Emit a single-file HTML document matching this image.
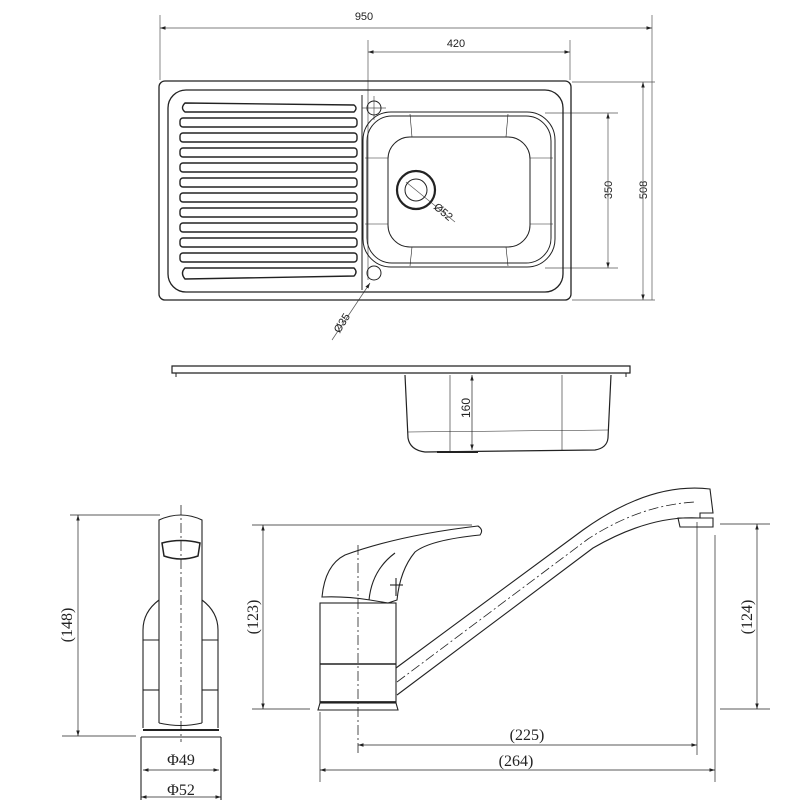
<!DOCTYPE html>
<html><head><meta charset="utf-8"><style>html,body{margin:0;padding:0;background:#fff}svg{display:block}</style></head><body>
<svg width="800" height="800" viewBox="0 0 800 800" xmlns="http://www.w3.org/2000/svg" fill="none" stroke="#222" stroke-width="1">
<defs><marker id="a" markerWidth="8" markerHeight="6" refX="8" refY="3" orient="auto-start-reverse"><path d="M0,0.5 L8,3 L0,5.5" fill="#222" stroke="none"/></marker></defs>
<g font-family="Liberation Sans, sans-serif" font-size="11" fill="#222" stroke="none">
<text x="364" y="20" text-anchor="middle">950</text>
<text x="456" y="47" text-anchor="middle">420</text>
<text transform="translate(612,190) rotate(-90)" text-anchor="middle">350</text>
<text transform="translate(647,190) rotate(-90)" text-anchor="middle">508</text>
<text transform="translate(433,208) rotate(40)">Ø52</text>
<text transform="translate(345,325) rotate(-58)" text-anchor="middle">Ø35</text>
<text transform="translate(470,408) rotate(-90)" text-anchor="middle" font-size="12">160</text>
</g>
<g stroke-width="0.7" stroke="#555">
<line x1="160" y1="15" x2="160" y2="80"/><line x1="652" y1="15" x2="652" y2="300"/>
<line x1="160" y1="28" x2="652" y2="28" marker-start="url(#a)" marker-end="url(#a)"/>
<line x1="368" y1="40" x2="368" y2="280"/><line x1="570" y1="40" x2="570" y2="80"/>
<line x1="368" y1="52" x2="570" y2="52" marker-start="url(#a)" marker-end="url(#a)"/>
<line x1="545" y1="113" x2="618" y2="113"/><line x1="545" y1="268" x2="618" y2="268"/>
<line x1="608" y1="113" x2="608" y2="268" marker-start="url(#a)" marker-end="url(#a)"/>
<line x1="572" y1="82" x2="655" y2="82"/><line x1="572" y1="300" x2="655" y2="300"/>
<line x1="643" y1="82" x2="643" y2="300" marker-start="url(#a)" marker-end="url(#a)"/>
<line x1="374" y1="96" x2="374" y2="120"/><line x1="362" y1="108" x2="386" y2="108"/>
<line x1="406" y1="182" x2="455" y2="222"/>
<line x1="370" y1="283" x2="332" y2="340" marker-start="url(#a)"/>
</g>
<!-- sink top -->
<rect x="159" y="81" width="412" height="219" rx="6" stroke-width="1.3"/>
<rect x="168" y="90" width="395" height="202" rx="18" stroke-width="1.3"/>
<line x1="362" y1="95" x2="362" y2="290"/>
<g stroke-width="1.4">
<path d="M185,103 L354,105 Q358,108 354,112 L185,112 Q180,108 185,103Z"/>
<rect x="180" y="118" width="177" height="9" rx="3"/><rect x="180" y="133" width="177" height="9" rx="3"/>
<rect x="180" y="148" width="177" height="9" rx="3"/><rect x="180" y="163" width="177" height="9" rx="3"/>
<rect x="180" y="178" width="177" height="9" rx="3"/><rect x="180" y="193" width="177" height="9" rx="3"/>
<rect x="180" y="208" width="177" height="9" rx="3"/><rect x="180" y="223" width="177" height="9" rx="3"/>
<rect x="180" y="238" width="177" height="9" rx="3"/><rect x="180" y="253" width="177" height="9" rx="3"/>
<path d="M185,268 L354,268 Q358,272 354,276 L185,279 Q180,273 185,268Z"/>
</g>
<circle cx="374" cy="108" r="7"/><circle cx="374" cy="273" r="7"/>
<rect x="363" y="112" width="192" height="155" rx="28"/>
<rect x="367" y="116" width="184" height="147" rx="25"/>
<rect x="388" y="137" width="142" height="110" rx="22"/>
<g stroke-width="0.6"><line x1="410" y1="114" x2="412" y2="137"/><line x1="508" y1="114" x2="506" y2="137"/><line x1="410" y1="266" x2="412" y2="247"/><line x1="508" y1="266" x2="506" y2="247"/><line x1="365" y1="158" x2="388" y2="158"/><line x1="365" y1="224" x2="388" y2="224"/><line x1="553" y1="158" x2="530" y2="158"/><line x1="553" y1="224" x2="530" y2="224"/></g>
<circle cx="416" cy="190" r="19" stroke-width="2.2"/><circle cx="416" cy="190" r="11"/>
<!-- side view -->
<path d="M172,366 L630,366 L630,373 L172,373Z" stroke-width="1.2"/>
<line x1="176" y1="373" x2="176" y2="377"/><line x1="626" y1="373" x2="626" y2="377"/>
<path d="M405,375 L408,438 Q410,450 425,452 L595,450 Q607,448 608,438 L611,375" stroke-width="1.2"/>
<line x1="450" y1="375" x2="450" y2="452" stroke-width="0.6"/><line x1="562" y1="375" x2="562" y2="450" stroke-width="0.6"/>
<line x1="408" y1="432" x2="608" y2="430" stroke-width="0.6"/>
<line x1="437" y1="452" x2="478" y2="452" stroke-width="2"/>
<line x1="472" y1="375" x2="472" y2="450" stroke-width="0.7" marker-start="url(#a)" marker-end="url(#a)"/>
<!-- tap front -->
<g stroke-width="1.1">
<path d="M159,723 L159,520 Q181,510 202,520 L202,723"/>
<path d="M162,543 Q181,538 200,543 L198,556 Q181,562 164,556Z" stroke-width="1.5"/>
<path d="M159,600 Q143,612 143,630 L143,640 L159,640"/><path d="M202,600 Q218,612 218,630 L218,640 L202,640"/>
<line x1="143" y1="640" x2="143" y2="728"/><line x1="218" y1="640" x2="218" y2="728"/>
<line x1="143" y1="690" x2="159" y2="690"/><line x1="202" y1="690" x2="218" y2="690"/>
<path d="M159,723 Q181,728 202,723"/>
<line x1="143" y1="730" x2="219" y2="730" stroke-width="2"/>
<line x1="141" y1="737" x2="221" y2="737"/>
<line x1="141" y1="737" x2="141" y2="800"/><line x1="221" y1="737" x2="221" y2="800"/>
</g>
<line x1="181" y1="505" x2="181" y2="742" stroke-dasharray="10,3,2,3" stroke-width="0.8"/>
<g stroke-width="0.7">
<line x1="70" y1="515" x2="160" y2="515"/><line x1="62" y1="736" x2="136" y2="736"/>
<line x1="78" y1="515" x2="78" y2="736" marker-start="url(#a)" marker-end="url(#a)"/>
<line x1="143" y1="770" x2="219" y2="770" marker-start="url(#a)" marker-end="url(#a)"/>
<line x1="141" y1="797" x2="221" y2="797" marker-start="url(#a)" marker-end="url(#a)"/>
<line x1="252" y1="525" x2="472" y2="525"/><line x1="252" y1="709" x2="310" y2="709"/>
<line x1="263" y1="525" x2="263" y2="709" marker-start="url(#a)" marker-end="url(#a)"/>
<line x1="697" y1="522" x2="697" y2="755"/><line x1="715" y1="535" x2="715" y2="782"/>
<line x1="320" y1="712" x2="320" y2="782"/>
<line x1="358" y1="745" x2="697" y2="745" marker-start="url(#a)" marker-end="url(#a)"/>
<line x1="320" y1="770" x2="715" y2="770" marker-start="url(#a)" marker-end="url(#a)"/>
<line x1="720" y1="524" x2="770" y2="524"/><line x1="720" y1="709" x2="770" y2="709"/>
<line x1="757" y1="524" x2="757" y2="709" marker-start="url(#a)" marker-end="url(#a)"/>
</g>
<!-- tap side -->
<g stroke-width="1.1">
<rect x="320" y="603" width="76" height="100"/>
<line x1="320" y1="664" x2="396" y2="664" stroke-width="1.6"/>
<line x1="320" y1="702" x2="396" y2="702" stroke-width="1.8"/>
<path d="M320,703 L318,710 L398,710 L396,703"/>
<path d="M322,597 Q325,565 345,555 Q400,535 478,526 Q484,530 480,535 Q430,540 415,552 Q400,570 397,600 L388,603 L370,600 Q345,596 322,597Z"/>
<path d="M369,600 Q372,570 395,553"/>
<line x1="396" y1="578" x2="396" y2="596"/><line x1="390" y1="585" x2="403" y2="585"/>
<path d="M396,668 L583,530 Q650,482 710,489 L713,513 L700,513 L700,518 Q650,515 593,548 L397,695"/>
<path d="M678,518 L713,518 L713,527 L680,527Z"/>
</g>
<line x1="358" y1="545" x2="358" y2="755" stroke-dasharray="10,3,2,3" stroke-width="0.8"/>
<path d="M397,682 L588,539 Q640,505 695,502" stroke-dasharray="10,3,2,3" stroke-width="0.8"/>
<g font-family="Liberation Serif, serif" font-size="16" fill="#222" stroke="none">
<text transform="translate(72,625) rotate(-90)" text-anchor="middle">(148)</text>
<text transform="translate(258,617) rotate(-90)" text-anchor="middle">(123)</text>
<text transform="translate(752,617) rotate(-90)" text-anchor="middle">(124)</text>
<text x="527" y="740" text-anchor="middle">(225)</text>
<text x="516" y="766" text-anchor="middle">(264)</text>
<text x="181" y="765" text-anchor="middle">Φ49</text>
<text x="181" y="795" text-anchor="middle">Φ52</text>
</g>
</svg>
</body></html>
